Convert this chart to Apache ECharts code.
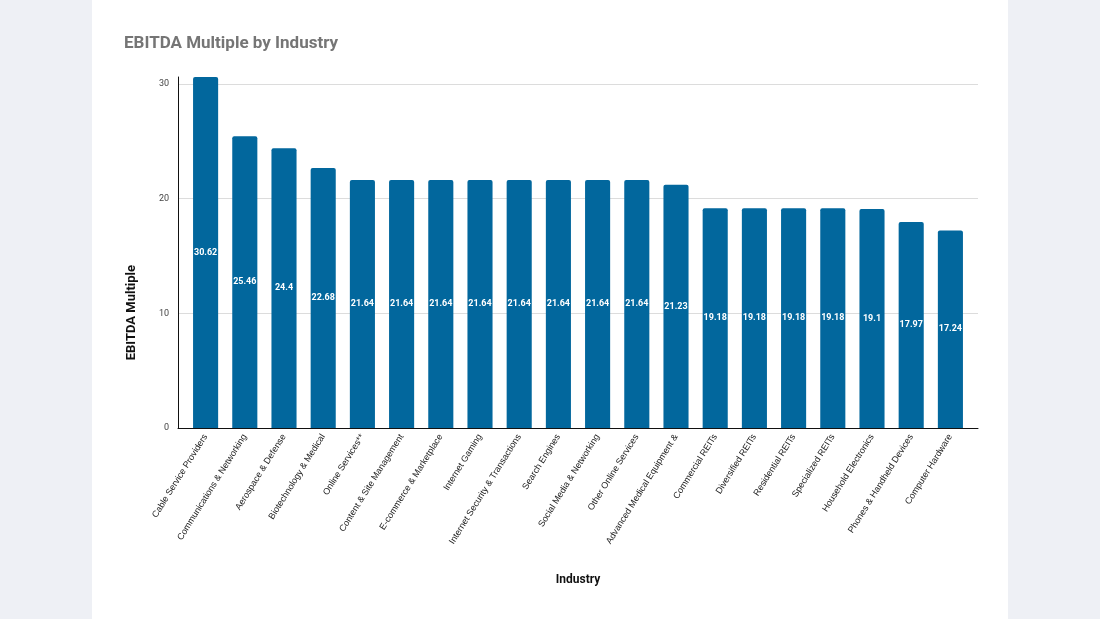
<!DOCTYPE html>
<html>
<head>
<meta charset="utf-8">
<script src="https://cdn.jsdelivr.net/npm/echarts@6/dist/echarts.min.js"></script>
<style>
    html, body { margin: 0; padding: 0; background: #eef0f5; }
    #panel { position: absolute; left: 92px; top: 0; width: 916px; height: 619px; background: #fff; }
    #cn { position: absolute; left: 0; top: 0; width: 1100px; height: 619px; }
</style>
</head>
<body>
<div id="panel"></div>
<div id="cn"></div>
<script>
'use strict';

const industries = [
    'Cable Service Providers', 'Communications & Networking', 'Aerospace & Defense',
    'Biotechnology & Medical', 'Online Services**', 'Content & Site Management',
    'E-commerce & Marketplace', 'Internet Gaming', 'Internet Security & Transactions',
    'Search Engines', 'Social Media & Networking', 'Other Online Services',
    'Advanced Medical Equipment &', 'Commercial REITs', 'Diversified REITs',
    'Residential REITs', 'Specialized REITs', 'Household Electronics',
    'Phones & Handheld Devices', 'Computer Hardware'
];
const multiples = [
    30.62, 25.46, 24.4, 22.68, 21.64, 21.64, 21.64, 21.64, 21.64, 21.64,
    21.64, 21.64, 21.23, 19.18, 19.18, 19.18, 19.18, 19.1, 17.97, 17.24
];
const yMax = 30.62;   // axis tops out at the tallest bar
const yStep = 10;

const chart = echarts.init(document.getElementById('cn'));

const gridTop = 77;
const gridBottom = 191;

let option = {
    backgroundColor: 'transparent',
    animation: false,
    title: {
        text: 'EBITDA Multiple by Industry',
        left: 119,
        top: 30,
        textStyle: {
            fontFamily: 'Roboto',
            fontSize: 17,
            fontWeight: 'bold',
            color: '#757575'
        }
    },
    grid: [{
            // bars
            left: 186,
            right: 130,
            top: gridTop,
            bottom: gridBottom
        },
        {
            // frame: axis lines, grid lines, value labels
            left: 178,
            right: 122,
            top: gridTop,
            bottom: gridBottom
        }
    ],
    xAxis: [{
            type: 'category',
            gridIndex: 0,
            data: industries,
            axisLine: { show: false },
            axisTick: { show: false },
            axisLabel: {
                interval: 0,
                rotate: 58,
                margin: 7,
                fontFamily: 'Liberation Sans',
                fontSize: 9,
                color: '#222'
            }
        },
        {
            type: 'value',
            gridIndex: 1,
            min: 0,
            max: 1,
            axisLine: { show: true, lineStyle: { color: '#111', width: 1 } },
            axisTick: { show: false },
            axisLabel: { show: false },
            splitLine: { show: false },
            name: 'Industry',
            nameLocation: 'middle',
            nameGap: 146,
            nameTextStyle: {
                fontFamily: 'Roboto',
                fontSize: 12,
                fontWeight: 'bold',
                color: '#111'
            }
        }
    ],
    yAxis: [{
            type: 'value',
            gridIndex: 0,
            min: 0,
            max: yMax,
            show: false
        },
        {
            type: 'value',
            gridIndex: 1,
            min: 0,
            max: yMax,
            interval: yStep,
            axisLine: { show: true, lineStyle: { color: '#111', width: 1 } },
            axisTick: { show: false },
            axisLabel: {
                margin: 9,
                showMaxLabel: false,
                fontFamily: 'Roboto',
                fontSize: 9,
                color: '#444'
            },
            splitLine: {
                show: true,
                showMinLine: false,
                showMaxLine: false,
                lineStyle: { color: '#dcdcdc', width: 1 }
            }
        }
    ],
    graphic: [{
        type: 'text',
        left: 125,
        top: 265,
        rotation: Math.PI / 2,
        style: {
            text: 'EBITDA Multiple',
            fontFamily: 'Roboto',
            fontSize: 13,
            fontWeight: 'bold',
            fill: '#111'
        }
    }],
    series: [{
        type: 'bar',
        xAxisIndex: 0,
        yAxisIndex: 0,
        data: multiples,
        barWidth: '64%',
        itemStyle: {
            color: '#02679d',
            borderRadius: [2, 2, 0, 0]
        },
        label: {
            show: true,
            position: 'inside',
            fontFamily: 'Roboto',
            fontSize: 9,
            fontWeight: 'bold',
            color: '#fff'
        }
    }]
};

chart.setOption(option);
</script>
</body>
</html>
